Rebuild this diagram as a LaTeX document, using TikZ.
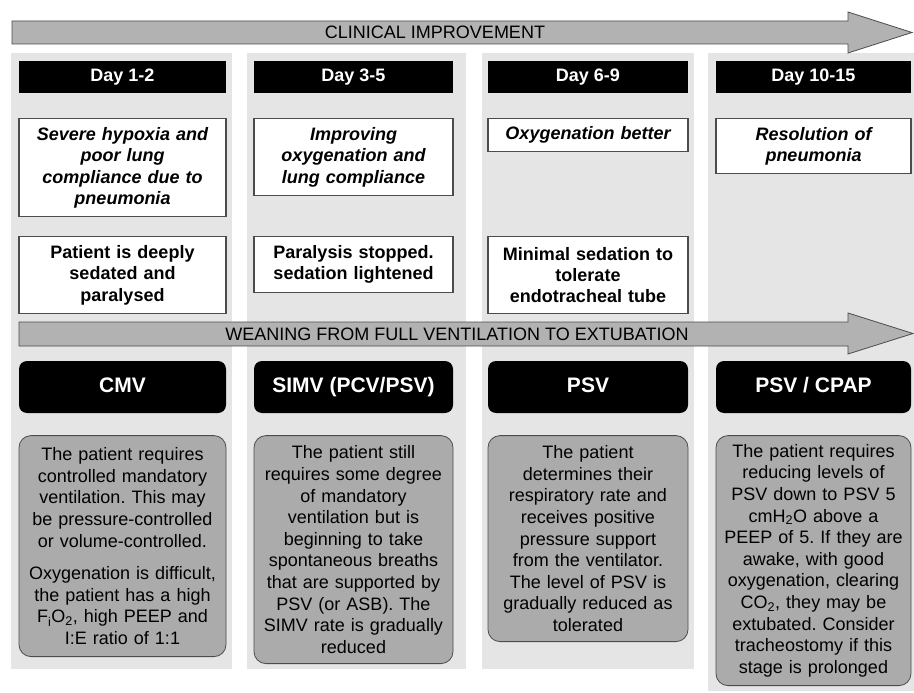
\documentclass[tikz,border=0pt]{standalone}
\usepackage{fontspec}
\setmainfont{Liberation Sans}
\usetikzlibrary{positioning}

\definecolor{panelgray}{gray}{0.9}
\definecolor{notegray}{gray}{0.67}
\definecolor{arrowgray}{gray}{0.70}
\definecolor{edgegray}{gray}{0.3}

\begin{document}
\frenchspacing
\begin{tikzpicture}[
  x=1pt, y=-1pt,
  node distance=25pt,
  daybox/.style={fill=black, text=white, inner sep=0pt,
                 minimum height=32pt, text height=13pt, text depth=3pt,
                 font=\fontsize{18}{21.6}\selectfont\bfseries},
  statebox/.style={draw=edgegray, line width=1.2pt, fill=white,
                   align=center, inner xsep=2pt, inner ysep=0pt,
                   font=\fontsize{18}{21.4}\selectfont\bfseries\itshape},
  sedbox/.style={statebox,
                 font=\fontsize{18}{21.4}\selectfont\bfseries},
  modebox/.style={fill=black, text=white, rounded corners=8pt,
                  inner sep=0pt, minimum height=52pt,
                  text height=15pt, text depth=4pt,
                  font=\fontsize{21}{25}\selectfont\bfseries},
  notebox/.style={draw=edgegray, line width=0.8pt, fill=notegray,
                  rounded corners=12pt, align=center,
                  inner xsep=2pt, inner ysep=0pt,
                  font=\fontsize{18}{21.6}\selectfont},
  bigarrow/.style={draw=edgegray, line width=0.8pt, fill=arrowgray},
  arrowlabel/.style={font=\fontsize{18}{21.6}\selectfont, inner sep=0pt}
]
\useasboundingbox (0,0) rectangle (914,693);
\fill[white] (0,0) rectangle (914,693);

% column panels
\fill[panelgray] (11,53) rectangle (232,669);
\fill[panelgray] (247,53) rectangle (466,669);
\fill[panelgray] (482,53) rectangle (694,669);
\fill[panelgray] (708,53) rectangle (914,691);

% clinical improvement arrow
\draw[bigarrow] (12,21) -- (848,21) -- (848,12) -- (912,32.5)
  -- (848,53) -- (848,44) -- (12,44) -- cycle;
\node[arrowlabel] (clinical) at (435,32.5) {CLINICAL IMPROVEMENT};

\node[daybox, minimum width=207pt] (day1) at (122.5,77) {Day 1-2};
\node[daybox, minimum width=199pt] (day2) at (353.5,77) {Day 3-5};
\node[daybox, minimum width=200pt] (day3) at (588,77) {Day 6-9};
\node[daybox, minimum width=195pt] (day4) at (813.5,77) {Day 10-15};

\node[statebox, text width=203pt, minimum height=98pt, below=of day1] (lung1)
  {Severe hypoxia and\\ poor lung\\ compliance due to\\ pneumonia};
\node[statebox, text width=195pt, minimum height=77pt, below=of day2] (lung2)
  {Improving\\ oxygenation and\\ lung compliance};
\node[statebox, text width=196pt, minimum height=33pt, below=of day3] (lung3)
  {Oxygenation better};
\node[statebox, text width=191pt, minimum height=55pt, below=of day4] (lung4)
  {Resolution of\\ pneumonia};

\node[sedbox, text width=203pt, minimum height=77pt, anchor=north] (sed1) at (122.5,236)
  {Patient is deeply\\ sedated and\\ paralysed};
\node[sedbox, text width=195pt, minimum height=56pt, anchor=north] (sed2) at (353.5,236)
  {Paralysis stopped.\\ sedation lightened};
\node[sedbox, text width=196pt, minimum height=77pt, anchor=north] (sed3) at (588,236)
  {Minimal sedation to\\ tolerate\\ endotracheal tube};

% weaning arrow
\draw[bigarrow] (19,322) -- (848,322) -- (848,313) -- (913,333.5)
  -- (848,354) -- (848,346) -- (19,346) -- cycle;
\node[arrowlabel] (weaning) at (457,334)
  {WEANING FROM FULL VENTILATION TO EXTUBATION};

\node[modebox, minimum width=207pt] (mode1) at (122.5,387) {CMV};
\node[modebox, minimum width=199pt] (mode2) at (353.5,387) {SIMV (PCV/PSV)};
\node[modebox, minimum width=200pt] (mode3) at (588,387) {PSV};
\node[modebox, minimum width=195pt] (mode4) at (813.5,387) {PSV / CPAP};

\node[notebox, text width=203pt, minimum height=221pt, below=22pt of mode1] (note1)
  {The patient requires\\ controlled mandatory\\ ventilation. This may\\
   be pressure-controlled\\ or volume-controlled.\\[11pt]
   Oxygenation is difficult,\\ the patient has a high\\
   F\textsubscript{i}O\textsubscript{2}, high PEEP and\\ I:E ratio of 1:1};
\node[notebox, text width=195pt, minimum height=228pt, below=22pt of mode2] (note2)
  {The patient still\\ requires some degree\\ of mandatory\\ ventilation but is\\
   beginning to take\\ spontaneous breaths\\ that are supported by\\
   PSV (or ASB). The\\ SIMV rate is gradually\\ reduced};
\node[notebox, text width=196pt, minimum height=206pt, below=22pt of mode3] (note3)
  {The patient\\ determines their\\ respiratory rate and\\ receives positive\\
   pressure support\\ from the ventilator.\\ The level of PSV is\\
   gradually reduced as\\ tolerated};
\node[notebox, text width=191pt, minimum height=250pt, below=22pt of mode4] (note4)
  {The patient requires\\ reducing levels of\\ PSV down to PSV 5\\
   cmH\textsubscript{2}O above a\\ PEEP of 5. If they are\\ awake, with good\\
   oxygenation, clearing\\ CO\textsubscript{2}, they may be\\ extubated. Consider\\
   tracheostomy if this\\ stage is prolonged};
\end{tikzpicture}
\end{document}
